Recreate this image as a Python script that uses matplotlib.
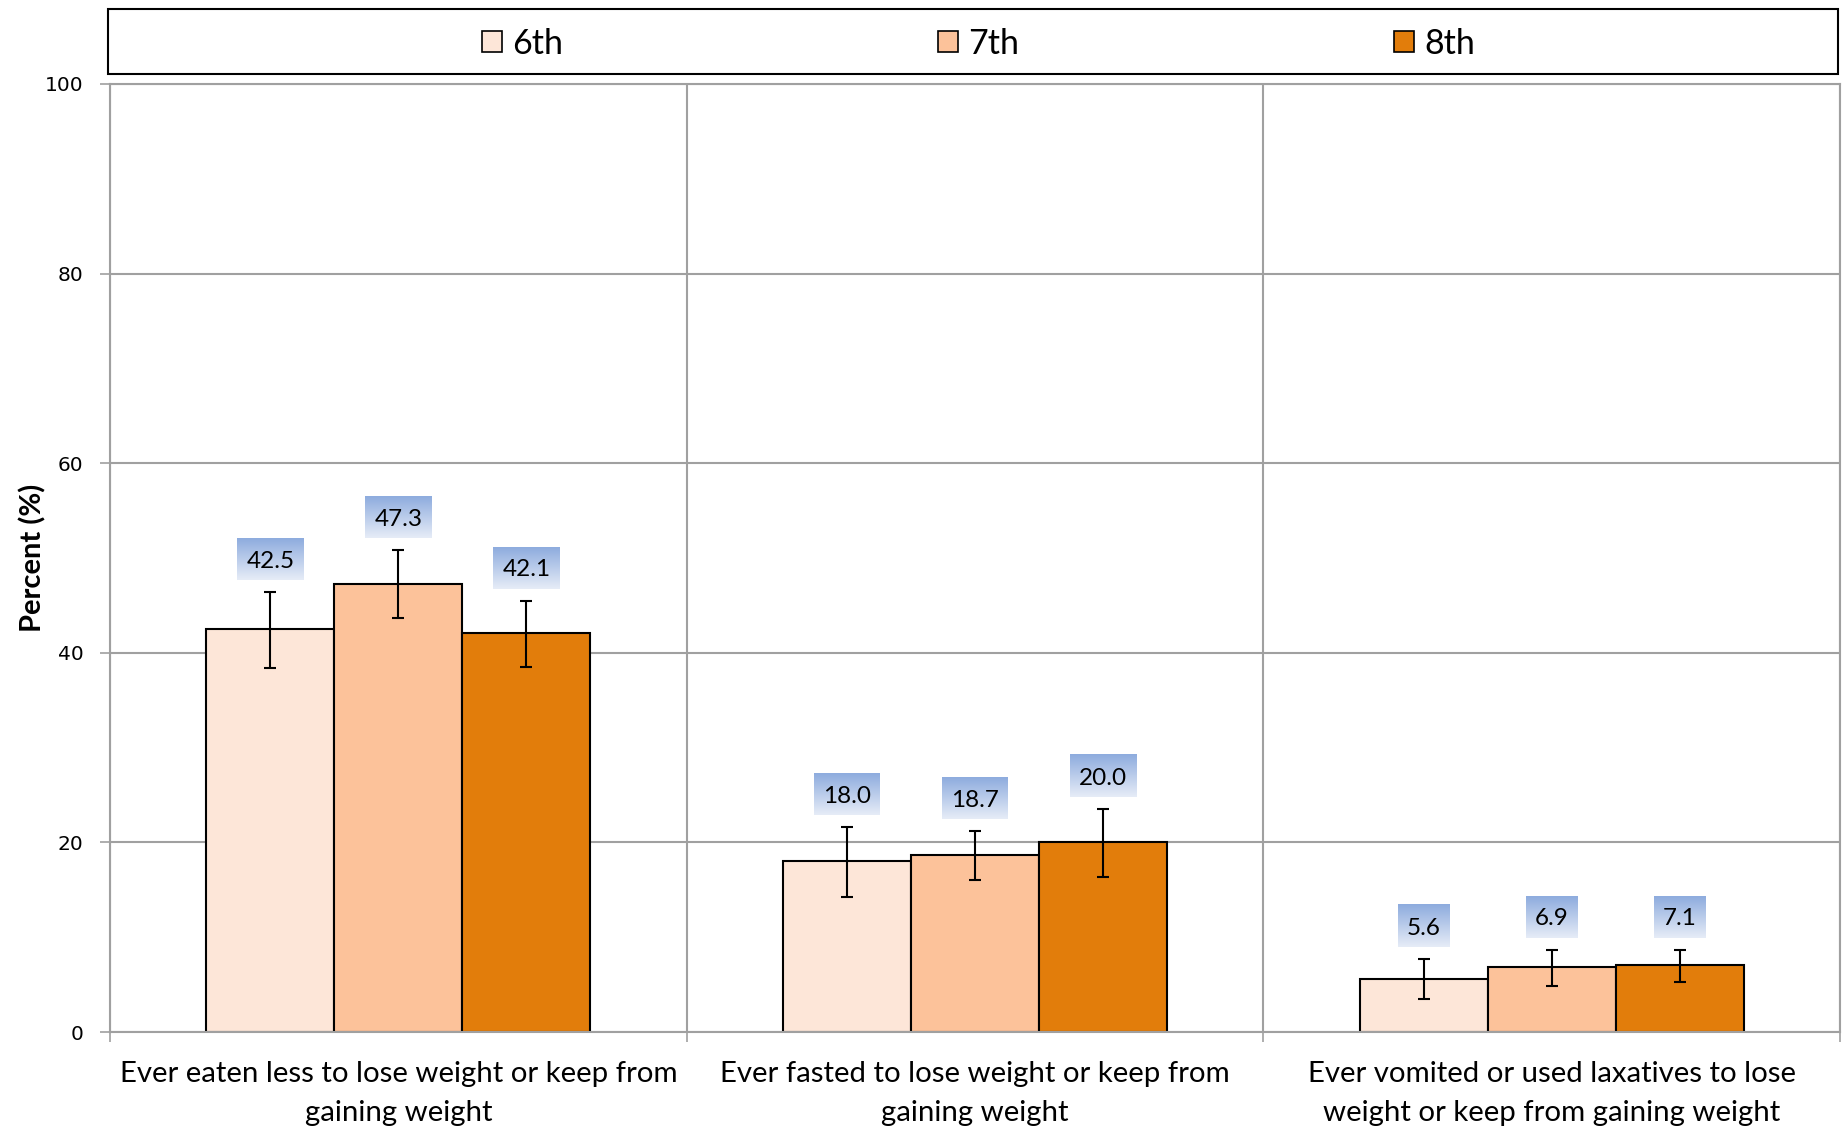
import numpy as np
import matplotlib
matplotlib.use("Agg")
import matplotlib.pyplot as plt
from matplotlib.colors import LinearSegmentedColormap
from matplotlib.patches import Patch, Rectangle

# --- data -------------------------------------------------------------
CATEGORIES = [
    "Ever eaten less to lose weight or keep from\ngaining weight",
    "Ever fasted to lose weight or keep from\ngaining weight",
    "Ever vomited or used laxatives to lose\nweight or keep from gaining weight",
]
GRADES = ["6th", "7th", "8th"]
VALUES = {
    "6th": [42.5, 18.0, 5.6],
    "7th": [47.3, 18.7, 6.9],
    "8th": [42.1, 20.0, 7.1],
}
CI_LOW = {
    "6th": [38.4, 14.2, 3.5],
    "7th": [43.7, 16.0, 4.9],
    "8th": [38.5, 16.4, 5.3],
}
CI_HIGH = {
    "6th": [46.4, 21.6, 7.7],
    "7th": [50.8, 21.2, 8.7],
    "8th": [45.5, 23.5, 8.7],
}
Y_TICKS = [0, 20, 40, 60, 80, 100]

# --- style ------------------------------------------------------------
COLORS = {"6th": "#FDE6D8", "7th": "#FCC29A", "8th": "#E27D0B"}
GRID = "#A0A0A0"
BOX_CMAP = LinearSegmentedColormap.from_list("box", ["#8EACDE", "#E6ECF7"])
FONT = ["Lato", "DejaVu Sans"]
BAR_W = 0.222

fig = plt.figure(figsize=(18.47, 11.30), dpi=100)
ax = fig.add_axes([0.0596, 0.0867, 0.9366, 0.8390])

x = np.arange(len(CATEGORIES))
label_texts = []
for j, g in enumerate(GRADES):
    xs = x + (j - 1) * BAR_W
    vals = np.array(VALUES[g])
    lo = vals - np.array(CI_LOW[g])
    hi = np.array(CI_HIGH[g]) - vals
    ax.bar(xs, vals, width=BAR_W, color=COLORS[g], edgecolor="black",
           linewidth=1.5, zorder=2)
    ax.errorbar(xs, vals, yerr=[lo, hi], fmt="none", ecolor="black",
                elinewidth=1.5, capsize=4.3, capthick=1.5, zorder=3)
    for xi, v, top in zip(xs, vals, CI_HIGH[g]):
        t = ax.annotate(f"{v:.1f}", xy=(xi, top), xytext=(0, 17.6),
                        textcoords="offset points", ha="center", va="baseline",
                        fontsize=17.5, family=FONT, color="black", zorder=5)
        label_texts.append((t, xi, top))

ax.set_xlim(-0.5, 2.5)
ax.set_ylim(0, 100)
ax.set_yticks(Y_TICKS)
ax.tick_params(axis="y", length=7, width=1.2, color=GRID, pad=12, labelsize=14.5)
ax.set_xticks([-0.5, 0.5, 1.5, 2.5])
ax.set_xticklabels([])
ax.tick_params(axis="x", which="major", length=7, width=1.2, color=GRID)
ax.set_xticks(x, minor=True)
ax.set_xticklabels(CATEGORIES, minor=True, fontsize=21.2, family=FONT,
                   linespacing=1.62)
ax.tick_params(axis="x", which="minor", length=0, pad=20.5)
ax.grid(True, which="major", color=GRID, linewidth=1.5, zorder=0)
ax.set_axisbelow(True)
for s in ax.spines.values():
    s.set_color(GRID)
    s.set_linewidth(1.5)
ax.set_ylabel("Percent (%)", fontsize=21, fontweight="bold", family=FONT)
ax.yaxis.set_label_coords(-0.037, 0.5)

# gradient boxes behind the value labels
fig.canvas.draw()
renderer = fig.canvas.get_renderer()
inv = ax.transData.inverted()
grad = np.linspace(0, 1, 64).reshape(-1, 1)
for t, xi, top in label_texts:
    bb = t.get_window_extent(renderer)
    _, py = ax.transData.transform((xi, top))
    (dx0, dy0) = inv.transform((bb.x0 - 9, py + 12))
    (dx1, dy1) = inv.transform((bb.x1 + 9, py + 54))
    ax.imshow(grad, extent=(dx0, dx1, dy0, dy1), cmap=BOX_CMAP,
              aspect="auto", origin="upper", interpolation="bilinear", zorder=4)
ax.set_xlim(-0.5, 2.5)
ax.set_ylim(0, 100)

# legend in a framed strip above the plot
fig.add_artist(Rectangle((0.0585, 0.9345), 0.9365, 0.0575,
                         transform=fig.transFigure, fill=False,
                         edgecolor="black", linewidth=1.5))
handles = [Patch(facecolor=COLORS[g], edgecolor="black", linewidth=1.2)
           for g in GRADES]
fig.legend(handles, GRADES, loc="center", bbox_to_anchor=(0.5298, 0.9615),
           ncol=3, frameon=False, prop={"family": FONT, "size": 24.5},
           handlelength=0.6, handleheight=0.6, handletextpad=0.3,
           columnspacing=11.0)

fig.savefig("out.png", dpi=100)
